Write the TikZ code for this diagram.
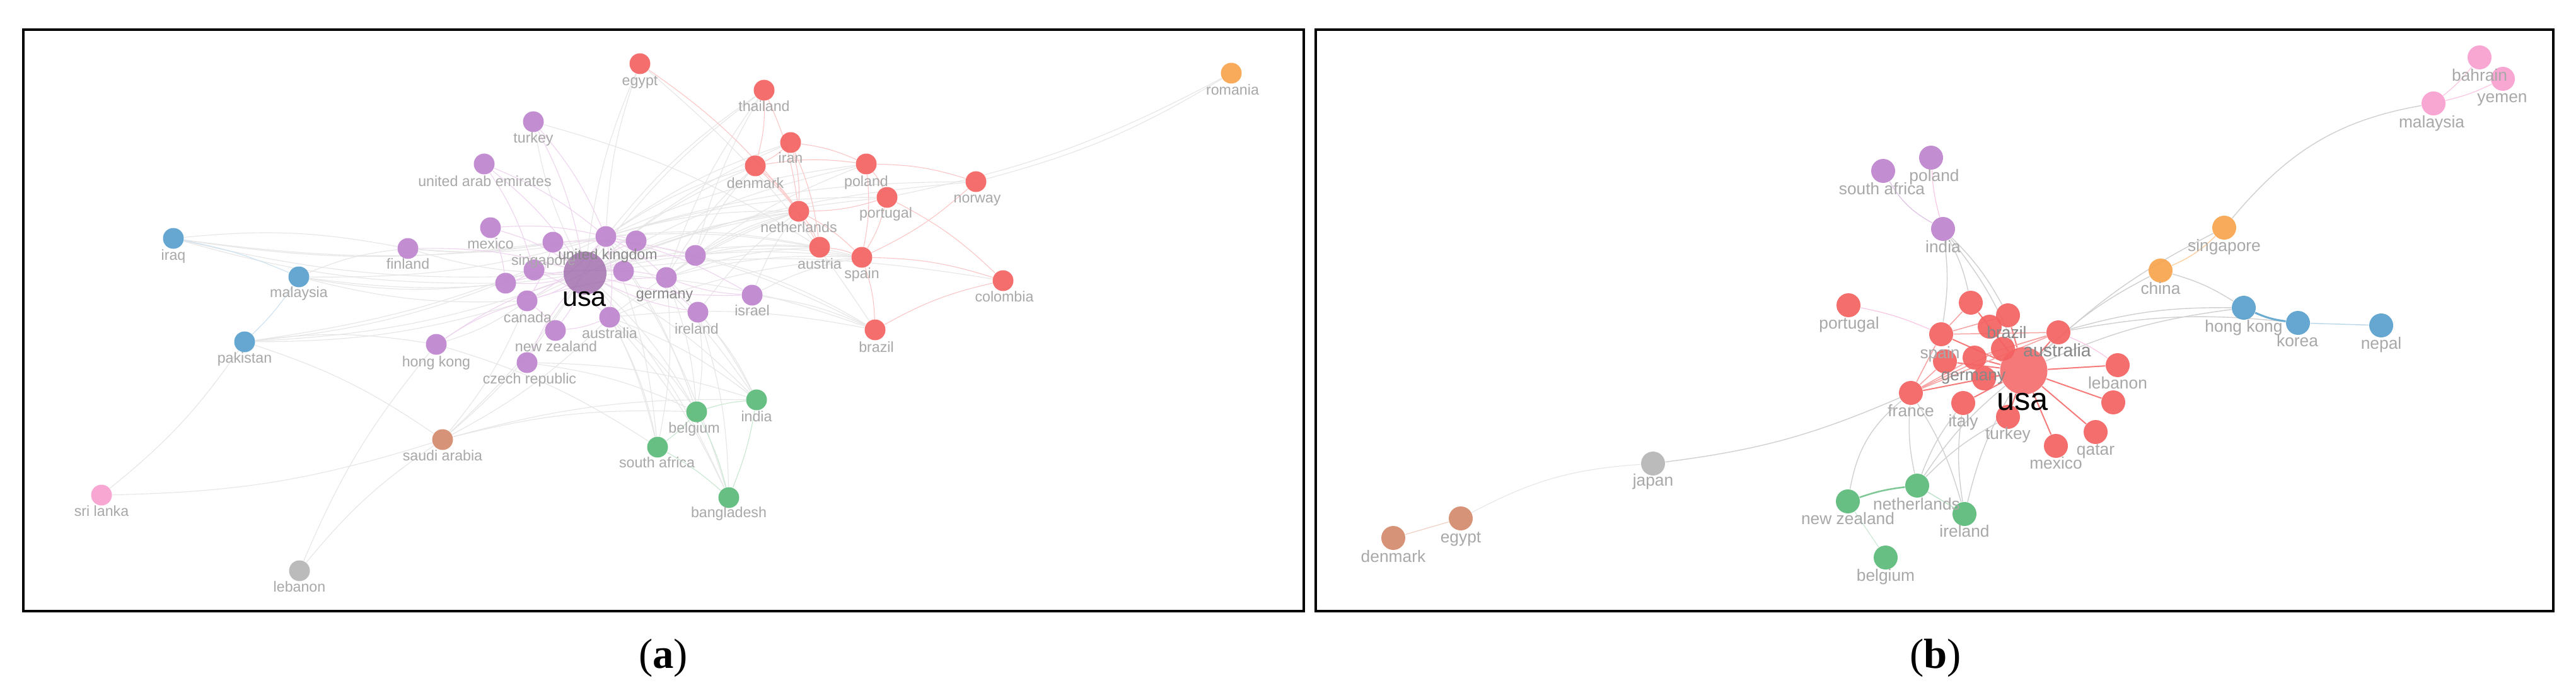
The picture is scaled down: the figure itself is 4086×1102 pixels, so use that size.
\documentclass[tikz,border=0pt]{standalone}
\usepackage{fontspec}
\setmainfont{Liberation Serif}
\setsansfont{Liberation Sans}
\pgfdeclarelayer{edges}
\pgfsetlayers{edges,main}
\definecolor{cpurple}{RGB}{190,132,206}
\definecolor{cred}{RGB}{244,98,98}
\definecolor{cblue}{RGB}{88,160,204}
\definecolor{cgreen}{RGB}{92,186,122}
\definecolor{corange}{RGB}{248,164,78}
\definecolor{cpink}{RGB}{248,160,208}
\definecolor{cbrown}{RGB}{212,138,108}
\definecolor{cgray}{RGB}{182,182,182}
\definecolor{lblc}{RGB}{168,168,168}
\definecolor{lbld}{RGB}{135,135,135}
\definecolor{egray}{RGB}{230,230,230}
\definecolor{egrayd}{RGB}{208,208,208}
\definecolor{epurple}{RGB}{238,212,238}
\definecolor{ered}{RGB}{252,198,198}
\tikzset{
  na/.style={circle, inner sep=0pt, minimum size=3.3mm, draw=none, fill opacity=0.92},
  nb/.style={circle, inner sep=0pt, minimum size=3.8mm, draw=none, fill opacity=0.92},
  la/.style={anchor=mid, inner sep=0pt, text=lblc, font=\fontsize{6.6}{7}\selectfont\sffamily},
  lb/.style={anchor=mid, inner sep=0pt, text=lblc, font=\fontsize{7.5}{8}\selectfont\sffamily},
  ea/.style={draw=egray, line width=0.11mm},
  eap/.style={draw=epurple, line width=0.11mm},
  ear/.style={draw=ered, line width=0.11mm},
  eab/.style={draw=cblue!30, line width=0.11mm},
  eag/.style={draw=cgreen!35, line width=0.11mm},
  eb/.style={draw=egrayd, line width=0.14mm},
  ebr/.style={draw=cred!85, line width=0.2mm},
  frame/.style={draw=black, line width=0.33mm},
  caption/.style={font=\fontsize{19}{22}\selectfont\rmfamily, inner sep=0pt}
}
\begin{document}
\begin{tikzpicture}[x=0.1mm, y=-0.1mm]
\useasboundingbox (0,0) rectangle (4086,1102);
\begin{pgfonlayer}{edges}
\fill[white] (0,0) rectangle (4086,1102);
\end{pgfonlayer}

% ================= panel (a) nodes =================
\node[na, fill=cred] (aEgypt) at (1015,101) {};
\node[na, fill=cred] (aThailand) at (1212,143) {};
\node[na, fill=corange] (aRomania) at (1953,116) {};
\node[na, fill=cpurple] (aTurkey) at (846,193) {};
\node[na, fill=cred] (aIran) at (1254,226) {};
\node[na, fill=cpurple] (aUAE) at (768,260) {};
\node[na, fill=cred] (aDenmark) at (1198,263) {};
\node[na, fill=cred] (aPoland) at (1374,260) {};
\node[na, fill=cred] (aNorway) at (1548,288) {};
\node[na, fill=cred] (aPortugal) at (1407,313) {};
\node[na, fill=cred] (aNetherlands) at (1267,335) {};
\node[na, fill=cpurple] (aMexico) at (778,361) {};
\node[na, fill=cblue] (aIraq) at (275,378) {};
\node[na, fill=cpurple] (aFinland) at (647,394) {};
\node[na, fill=cblue] (aMalaysia) at (474,439) {};
\node[na, fill=cred] (aAustria) at (1300,392) {};
\node[na, fill=cred] (aSpain) at (1367,408) {};
\node[na, fill=cred] (aColombia) at (1591,445) {};
\node[na, fill=cpurple] (aIsrael) at (1193,468) {};
\node[na, fill=cred] (aBrazil) at (1388,523) {};
\node[na, fill=cpurple] (aIreland) at (1107,495) {};
\node[na, fill=cblue] (aPakistan) at (388,542) {};
\node[na, fill=cpurple] (aHongKong) at (692,546) {};
\node[na, fill=cpurple] (aNewZealand) at (881,524) {};
\node[na, fill=cpurple] (aCzech) at (836,575) {};
\node[na, fill=cgreen] (aBelgium) at (1105,653) {};
\node[na, fill=cgreen] (aIndia) at (1200,634) {};
\node[na, fill=cbrown] (aSaudi) at (702,697) {};
\node[na, fill=cgreen] (aSouthAfrica) at (1043,709) {};
\node[na, fill=cgreen] (aBangladesh) at (1156,789) {};
\node[na, fill=cpink] (aSriLanka) at (161,785) {};
\node[na, fill=cgray] (aLebanon) at (475,905) {};
\node[na, fill=cpurple] (aP1) at (847,428) {};
\node[na, fill=cpurple] (aP2) at (989,430) {};
\node[na, fill=cpurple] (aP3) at (1009,382) {};
\node[na, fill=cpurple] (aP4) at (1103,405) {};
\node[na, fill=cpurple] (aP5) at (802,449) {};
\node[na, fill=cpurple] (aUK) at (961,375) {};
\node[na, fill=cpurple] (aSingapore) at (877,384) {};
\node[na, fill=cpurple] (aCanada) at (836,477) {};
\node[na, fill=cpurple] (aGermany) at (1057,440) {};
\node[na, fill=cpurple] (aAustralia) at (967,503) {};
\node[na, fill=cpurple!85!black, minimum size=6.8mm, fill opacity=0.85] (aUSA) at (928,433) {};

% ================= panel (a) labels =================
\node[la] (laEgypt) at (1015,127) {egypt};
\node[la] (laThailand) at (1212,168) {thailand};
\node[la] (laRomania) at (1955,142) {romania};
\node[la] (laTurkey) at (846,218) {turkey};
\node[la] (laIran) at (1254,250) {iran};
\node[la] (laUAE) at (769,287) {united arab emirates};
\node[la] (laDenmark) at (1198,290) {denmark};
\node[la] (laPoland) at (1374,287) {poland};
\node[la] (laNorway) at (1550,313) {norway};
\node[la] (laPortugal) at (1405,337) {portugal};
\node[la] (laNetherlands) at (1267,360) {netherlands};
\node[la] (laMexico) at (778,386) {mexico};
\node[la] (laIraq) at (275,404) {iraq};
\node[la] (laFinland) at (647,418) {finland};
\node[la] (laMalaysia) at (474,463) {malaysia};
\node[la] (laAustria) at (1300,418) {austria};
\node[la] (laSpain) at (1367,433) {spain};
\node[la] (laColombia) at (1593,470) {colombia};
\node[la] (laIsrael) at (1193,492) {israel};
\node[la] (laBrazil) at (1390,550) {brazil};
\node[la] (laIreland) at (1105,521) {ireland};
\node[la] (laPakistan) at (388,567) {pakistan};
\node[la] (laHongKong) at (692,573) {hong kong};
\node[la] (laNewZealand) at (882,549) {new zealand};
\node[la] (laCzech) at (840,600) {czech republic};
\node[la] (laBelgium) at (1101,678) {belgium};
\node[la] (laIndia) at (1200,660) {india};
\node[la] (laSaudi) at (702,722) {saudi arabia};
\node[la] (laSouthAfrica) at (1042,733) {south africa};
\node[la] (laBangladesh) at (1156,812) {bangladesh};
\node[la] (laSriLanka) at (161,810) {sri lanka};
\node[la] (laLebanon) at (475,930) {lebanon};
\node[la] (laSingapore) at (862,412) {singapore};
\node[la, text=lbld] (laUK) at (964,403) {united kingdom};
\node[la] (laCanada) at (837,503) {canada};
\node[la, text=lbld] (laGermany) at (1054,465) {germany};
\node[la] (laAustralia) at (967,528) {australia};
\node[la, text=black, font=\fontsize{12.3}{14}\selectfont\sffamily] (laUSA) at (927,477) {usa};

% ================= panel (b) nodes =================
\node[nb, fill=cpink] (bBahrain) at (3933,91) {};
\node[nb, fill=cpink] (bYemen) at (3970,125) {};
\node[nb, fill=cpink] (bMalaysia) at (3860,164) {};
\node[nb, fill=cpurple] (bPoland) at (3063,250) {};
\node[nb, fill=cpurple] (bSouthAfrica) at (2987,271) {};
\node[nb, fill=cpurple] (bIndia) at (3082,363) {};
\node[nb, fill=corange] (bSingapore) at (3528,361) {};
\node[nb, fill=corange] (bChina) at (3427,429) {};
\node[nb, fill=cblue] (bHongKong) at (3559,488) {};
\node[nb, fill=cblue] (bKorea) at (3645,512) {};
\node[nb, fill=cblue] (bNepal) at (3777,516) {};
\node[nb, fill=cred] (bPortugal) at (2932,484) {};
\node[nb, fill=cred] (bR1) at (3126,480) {};
\node[nb, fill=cred] (bBrazil) at (3185,500) {};
\node[nb, fill=cred] (bR2) at (3156,518) {};
\node[nb, fill=cred] (bAustralia) at (3265,527) {};
\node[nb, fill=cred] (bSpain) at (3079,530) {};
\node[nb, fill=cred] (bR3) at (3177,553) {};
\node[nb, fill=cred] (bGermany) at (3132,567) {};
\node[nb, fill=cred] (bR4) at (3085,573) {};
\node[nb, fill=cred] (bR5) at (3147,600) {};
\node[nb, fill=cred] (bFrance) at (3031,623) {};
\node[nb, fill=cred] (bItaly) at (3114,639) {};
\node[nb, fill=cred] (bTurkey) at (3185,661) {};
\node[nb, fill=cred] (bLebanon) at (3359,579) {};
\node[nb, fill=cred] (bR6) at (3352,638) {};
\node[nb, fill=cred] (bQatar) at (3324,685) {};
\node[nb, fill=cred] (bMexico) at (3261,707) {};
\node[nb, fill=cred, minimum size=7.5mm, fill opacity=0.85] (bUSA) at (3210,588) {};
\node[nb, fill=cgray] (bJapan) at (2622,735) {};
\node[nb, fill=cgreen] (bNetherlands) at (3041,770) {};
\node[nb, fill=cgreen] (bNewZealand) at (2931,795) {};
\node[nb, fill=cgreen] (bIreland) at (3116,815) {};
\node[nb, fill=cgreen] (bBelgium) at (2991,884) {};
\node[nb, fill=cbrown] (bEgypt) at (2317,822) {};
\node[nb, fill=cbrown] (bDenmark) at (2210,853) {};

% ================= panel (b) labels =================
\node[lb] (lbBahrain) at (3933,120) {bahrain};
\node[lb] (lbYemen) at (3969,154) {yemen};
\node[lb] (lbMalaysia) at (3857,194) {malaysia};
\node[lb] (lbPoland) at (3068,279) {poland};
\node[lb] (lbSouthAfrica) at (2985,300) {south africa};
\node[lb] (lbIndia) at (3082,392) {india};
\node[lb] (lbSingapore) at (3528,390) {singapore};
\node[lb] (lbChina) at (3427,458) {china};
\node[lb] (lbHongKong) at (3559,518) {hong kong};
\node[lb] (lbKorea) at (3644,541) {korea};
\node[lb] (lbNepal) at (3777,545) {nepal};
\node[lb] (lbPortugal) at (2933,513) {portugal};
\node[lb, text=lbld] (lbBrazil) at (3183,528) {brazil};
\node[lb, text=lbld, font=\fontsize{8.1}{9}\selectfont\sffamily] (lbAustralia) at (3263,557) {australia};
\node[lb] (lbSpain) at (3077,560) {spain};
\node[lb, text=lbld] (lbGermany) at (3130,595) {germany};
\node[lb] (lbFrance) at (3031,652) {france};
\node[lb] (lbItaly) at (3114,668) {italy};
\node[lb] (lbTurkey) at (3185,688) {turkey};
\node[lb] (lbLebanon) at (3359,608) {lebanon};
\node[lb] (lbQatar) at (3324,713) {qatar};
\node[lb] (lbMexico) at (3261,735) {mexico};
\node[lb] (lbJapan) at (2622,762) {japan};
\node[lb] (lbNetherlands) at (3040,800) {netherlands};
\node[lb] (lbNewZealand) at (2931,823) {new zealand};
\node[lb] (lbIreland) at (3116,843) {ireland};
\node[lb] (lbBelgium) at (2991,913) {belgium};
\node[lb] (lbEgypt) at (2317,852) {egypt};
\node[lb] (lbDenmark) at (2210,883) {denmark};
\node[lb, text=black, font=\fontsize{14.4}{16}\selectfont\sffamily] (lbUSA) at (3208,642) {usa};

% ================= edges =================
\begin{pgfonlayer}{edges}
% panel (a): grey links
\foreach \u/\v in {aUSA/aEgypt, aUSA/aThailand, aUSA/aTurkey, aUSA/aDenmark, aUSA/aIran, aUSA/aPoland,
  aUSA/aNetherlands, aUSA/aIraq, aUSA/aFinland, aUSA/aMalaysia, aUSA/aAustria, aUSA/aSpain, aUSA/aBrazil,
  aUSA/aPakistan, aUSA/aBelgium, aUSA/aIndia, aUSA/aSaudi, aUSA/aSouthAfrica, aUSA/aBangladesh,
  aUSA/aPortugal, aUSA/aNorway, aUSA/aColombia,
  aUK/aEgypt, aUK/aThailand, aUK/aDenmark, aUK/aIran, aUK/aNetherlands, aUK/aIraq, aUK/aFinland,
  aUK/aMalaysia, aUK/aAustria, aUK/aSpain, aUK/aBrazil, aUK/aPakistan, aUK/aBelgium, aUK/aIndia,
  aUK/aSouthAfrica, aUK/aBangladesh, aUK/aSaudi, aUK/aNorway, aUK/aPortugal, aUK/aPoland,
  aGermany/aNetherlands, aGermany/aAustria, aGermany/aSpain, aGermany/aDenmark, aGermany/aBelgium,
  aGermany/aIndia, aGermany/aSouthAfrica, aGermany/aThailand, aGermany/aPoland,
  aAustralia/aBelgium, aAustralia/aSouthAfrica, aAustralia/aIndia, aAustralia/aBangladesh,
  aAustralia/aNetherlands, aAustralia/aSpain, aAustralia/aBrazil, aAustralia/aSaudi,
  aCanada/aHongKong, aCanada/aSaudi, aCanada/aMalaysia, aCanada/aPakistan, aCanada/aNetherlands,
  aP4/aNetherlands, aP4/aAustria, aP4/aSpain, aP4/aDenmark, aP4/aBrazil, aP4/aThailand,
  aIreland/aBelgium, aIreland/aIndia, aIreland/aNetherlands, aIreland/aBangladesh,
  aIsrael/aBrazil, aIsrael/aSpain, aIsrael/aNetherlands,
  aIraq/aFinland, aMalaysia/aFinland, aPakistan/aSriLanka, aPakistan/aSaudi, aPakistan/aHongKong,
  aSaudi/aSriLanka, aSaudi/aIndia, aSaudi/aBelgium, aLebanon/aHongKong, aLebanon/aSaudi,
  aTurkey/aAustria, aCzech/aBelgium, aCzech/aIndia, aHongKong/aSouthAfrica, aEgypt/aBrazil,
  aP1/aPakistan, aP5/aMalaysia, aP5/aIraq, aSingapore/aFinland, aSingapore/aIraq,
  aRomania/aNorway, aRomania/aPortugal}
  \draw[ea] (\u) to[bend left=8] (\v);
% panel (a): purple cluster
\foreach \u/\v in {aUSA/aUK, aUSA/aSingapore, aUSA/aCanada, aUSA/aGermany, aUSA/aAustralia,
  aUSA/aP1, aUSA/aP2, aUSA/aP3, aUSA/aP4, aUSA/aP5, aUK/aGermany, aUK/aAustralia, aUK/aCanada,
  aSingapore/aCanada, aUK/aP3, aP1/aP5, aMexico/aUSA, aMexico/aUK, aUAE/aUSA, aUAE/aUK,
  aTurkey/aUSA, aTurkey/aUK, aCanada/aNewZealand, aAustralia/aNewZealand, aUSA/aNewZealand,
  aCzech/aUSA, aHongKong/aUSA, aFinland/aUSA, aIsrael/aUSA, aIreland/aUSA, aIsrael/aGermany,
  aIreland/aGermany, aSingapore/aP4, aP5/aP2, aCanada/aGermany, aP1/aAustralia, aUK/aIsrael,
  aHongKong/aCanada, aMexico/aP5, aUAE/aP1}
  \draw[eap] (\u) to[bend left=8] (\v);
% panel (a): red cluster
\foreach \u/\v in {aEgypt/aNetherlands, aThailand/aDenmark, aThailand/aNetherlands, aIran/aPoland,
  aIran/aDenmark, aIran/aNetherlands, aIran/aAustria, aDenmark/aNetherlands, aDenmark/aAustria,
  aDenmark/aPoland, aPoland/aPortugal, aPoland/aNorway, aPoland/aSpain, aPortugal/aSpain,
  aPortugal/aColombia, aPortugal/aNetherlands, aNetherlands/aSpain, aNetherlands/aAustria,
  aAustria/aSpain, aSpain/aColombia, aSpain/aBrazil, aBrazil/aColombia, aNorway/aSpain}
  \draw[ear] (\u) to[bend left=8] (\v);
\foreach \u/\v in {aIraq/aMalaysia, aMalaysia/aPakistan}
  \draw[eab] (\u) to[bend left=6] (\v);
\foreach \u/\v in {aBelgium/aIndia, aBelgium/aSouthAfrica, aIndia/aBangladesh,
  aSouthAfrica/aBangladesh, aBelgium/aBangladesh}
  \draw[eag] (\u) to[bend left=6] (\v);

% panel (b)
\draw[eb] (bMalaysia) to[out=190, in=50] (bSingapore);
\foreach \u/\v in {bChina/bHongKong, bUSA/bHongKong, bUSA/bChina, bUSA/bSingapore, bAustralia/bKorea,
  bIndia/bUSA, bIndia/bSpain, bIndia/bR1, bIndia/bBrazil, bFrance/bJapan, bNetherlands/bFrance,
  bNetherlands/bItaly, bNetherlands/bUSA, bIreland/bUSA, bNetherlands/bTurkey, bIreland/bItaly,
  bAustralia/bHongKong, bFrance/bIreland}
  \draw[eb] (\u) to[bend left=8] (\v);
\draw[eb] (bNewZealand) to[bend left=20] (bFrance);
\draw[ea] (bJapan) to[bend right=12] (bEgypt);
\draw[draw=cbrown!40, line width=0.12mm] (bEgypt) -- (bDenmark);
\foreach \u/\v in {bBahrain/bMalaysia, bYemen/bMalaysia, bIndia/bPoland, bPortugal/bSpain, bAustralia/bLebanon}
  \draw[draw=cpink!60, line width=0.12mm] (\u) to[bend left=6] (\v);
\draw[draw=cpurple!50, line width=0.12mm] (bSouthAfrica) to[bend right=15] (bIndia);
\draw[draw=corange!50, line width=0.15mm] (bSingapore) to[bend left=10] (bChina);
\draw[draw=cblue!90, line width=0.3mm] (bHongKong) to[bend right=8] (bKorea);
\draw[draw=cblue!40, line width=0.15mm] (bKorea) -- (bNepal);
\draw[draw=cgreen!80, line width=0.25mm] (bNetherlands) to[bend right=6] (bNewZealand);
\draw[draw=cgreen!40, line width=0.15mm] (bNetherlands) -- (bIreland);
\draw[draw=cgreen!30, line width=0.12mm] (bNewZealand) -- (bBelgium);
\foreach \v in {bR1, bBrazil, bR2, bAustralia, bSpain, bR3, bGermany, bR4, bR5, bFrance, bItaly,
  bTurkey, bLebanon, bR6, bQatar, bMexico}
  \draw[ebr] (bUSA) -- (\v);
\foreach \u/\v in {bFrance/bGermany, bFrance/bR3, bFrance/bSpain, bFrance/bAustralia, bFrance/bR4,
  bSpain/bR1, bSpain/bAustralia, bSpain/bBrazil, bAustralia/bGermany, bAustralia/bR3}
  \draw[draw=cred!60, line width=0.15mm] (\u) -- (\v);
\end{pgfonlayer}

% ================= frames and captions =================
\draw[frame] (37,47) rectangle (2068,969);
\draw[frame] (2087,47) rectangle (4050,969);
\node[caption] (capA) at (1052,1043) {(\textbf{a})};
\node[caption] (capB) at (3070,1043) {(\textbf{b})};
\end{tikzpicture}
\end{document}
